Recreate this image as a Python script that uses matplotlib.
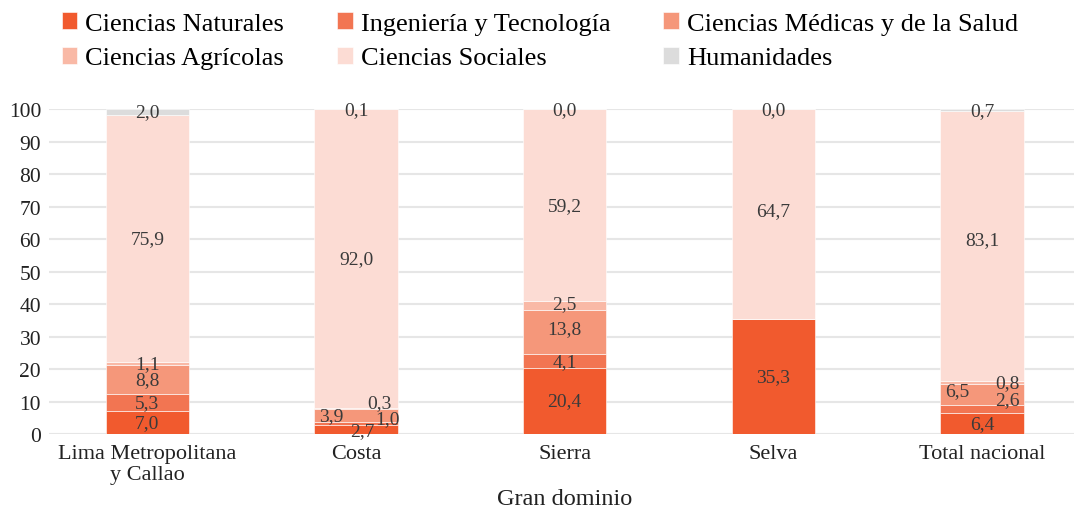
import matplotlib
matplotlib.use("Agg")
import matplotlib.pyplot as plt
import numpy as np

plt.rcParams["font.family"] = ["Liberation Serif", "DejaVu Serif"]

# Datos (porcentajes por gran dominio)
regiones = ["Lima Metropolitana\ny Callao", "Costa", "Sierra", "Selva", "Total nacional"]
areas = ["Ciencias Naturales", "Ingeniería y Tecnología", "Ciencias Médicas y de la Salud",
         "Ciencias Agrícolas", "Ciencias Sociales", "Humanidades"]
naturales = [7.0, 2.7, 20.4, 35.3, 6.4]
ingenieria = [5.3, 1.0, 4.1, 0.0, 2.6]
medicas = [8.8, 3.9, 13.8, 0.0, 6.5]
agricolas = [1.1, 0.3, 2.5, 0.0, 0.8]
sociales = [75.9, 92.0, 59.2, 64.7, 83.1]
humanidades = [2.0, 0.1, 0.0, 0.0, 0.7]

series = [naturales, ingenieria, medicas, agricolas, sociales, humanidades]
colores = ["#f15a2e", "#f27552", "#f5977a", "#f9b9a6", "#fcdcd4", "#dcdcdc"]

# desplazamientos de etiquetas que en el original no van centradas (barra, serie): (dx, dy)
ajustes = {
    (1, 0): (0.03, -0.3), (1, 1): (0.15, 1.6), (1, 2): (-0.12, 0.0), (1, 3): (0.11, 2.0),
    (4, 0): (0.0, 0.0), (4, 1): (0.12, 3.0), (4, 2): (-0.12, 1.0), (4, 3): (0.12, 0.0),
    (2, 2): (0.0, 1.0), (2, 3): (0.0, 0.5), (3, 4): (0.0, 1.0), (4, 4): (0.0, 2.0),
}

fig = plt.figure(figsize=(10.74, 5.10), dpi=100)
ax = fig.add_axes([0.046, 0.147, 0.954, 0.637])

x = np.arange(len(regiones))
base = np.zeros(len(regiones))
handles = []
for j, (vals, col) in enumerate(zip(series, colores)):
    vals = np.array(vals)
    b = ax.bar(x, vals, width=0.4, bottom=base, color=col, edgecolor="white",
               linewidth=0.4, zorder=2, label=areas[j])
    handles.append(b)
    for i in range(len(regiones)):
        v = vals[i]
        if v == 0 and j != 5:
            continue
        dx, dy = ajustes.get((i, j), (0.0, 0.0))
        yc = base[i] + v / 2
        if j == 5:
            yc = 100 - v / 2 if v < 1 else base[i] + v / 2
        ax.text(x[i] + dx, yc + dy, f"{v:.1f}".replace(".", ","), ha="center", va="center",
                fontsize=14, color="#3a3a3a", zorder=3, clip_on=False)
    base = base + vals

ax.set_ylim(0, 100)
ax.set_xlim(-0.469, 4.44)
ax.set_yticks(np.arange(0, 101, 10))
ax.set_xticks(x)
ax.set_xticklabels(regiones, fontsize=16, color="#222222", linespacing=1.15)
ax.tick_params(axis="y", labelsize=15.5, labelcolor="#222222", length=0, pad=6)
ax.tick_params(axis="x", length=0, pad=7)
ax.yaxis.grid(True, color="#e6e6e6", linewidth=1.5, zorder=0)
ax.set_axisbelow(True)
for s in ax.spines.values():
    s.set_visible(False)
ax.set_xlabel("Gran dominio", fontsize=17.5, color="#222222")
ax.xaxis.set_label_coords(0.503, -0.165)

orden = [0, 3, 1, 4, 2, 5]
fig.legend([handles[k] for k in orden], [areas[k] for k in orden], ncol=3,
           loc="upper left", bbox_to_anchor=(0.045, 1.0), frameon=False,
           fontsize=19, handlelength=0.6, handleheight=0.6, handletextpad=0.3,
           columnspacing=2.0, labelspacing=0.45, borderaxespad=0.1)

fig.savefig("out.png", dpi=100)
